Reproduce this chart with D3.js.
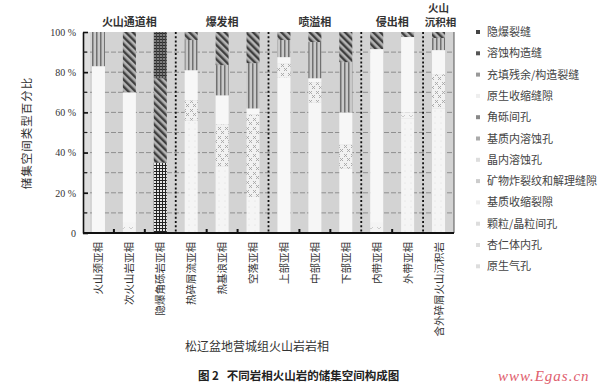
<!DOCTYPE html>
<html><head><meta charset="utf-8">
<script src="https://cdn.jsdelivr.net/npm/d3@7"></script>
<style>body{margin:0;background:#fff}svg{display:block}</style>
</head><body><svg id="c" width="616" height="385"></svg>
<script>
// ---------- data ----------
const categories = ["火山颈亚相","次火山岩亚相","隐爆角砾岩亚相","热碎屑流亚相","热基浪亚相","空落亚相","上部亚相","中部亚相","下部亚相","内带亚相","外带亚相","含外碎屑火山沉积岩"];
const groupNames = ["火山通道相","爆发相","喷溢相","侵出相","火山\n沉积相"];
const groupSizes = [3,3,3,2,1];
const seriesNames = ["隐爆裂缝","溶蚀构造缝","充填残余/构造裂缝","原生收缩缝隙","角砾间孔","基质内溶蚀孔","晶内溶蚀孔","矿物炸裂纹和解理缝隙","基质收缩裂隙","颗粒/晶粒间孔","杏仁体内孔","原生气孔"];
const yinBaoLieFeng      = [0,0,23,0,0,0,0,0,0,0,0,0];
const rongShiGouZaoFeng  = [0,30,42,4,16.5,15.5,4,5,15,8.5,2.5,3];
const chongTianCanYu     = [17,0,0,15,15,22.5,8.5,18,25,0,0,6];
const yuanShengShouSuo   = [83,65,0,15,14.5,3,3,2,16,86.5,37.5,12];
const liJianKong         = [0,0,35,0,0,0,0,0,0,0,0,0];
const jiZhiRongShiKong   = [0,0,0,10,21,41,7,10,12,0,0,17];
const jingNeiRongShiKong = [0,0,0,0,0,0,0,0,0,0,0,0];
const kuangWuZhaLieWen   = [0,5,0,0,0,0,0,0,0,5,3,0];
const jiZhiShouSuoLieXi  = [0,0,0,0,0,0,0,65,0,0,0,0];
const keLiJianKong       = [0,0,0,56,33,18,0,0,0,0,57,62];
const xingRenTiNeiKong   = [0,0,0,0,0,0,0,0,0,0,0,0];
const yuanShengQiKong    = [0,0,0,0,0,0,77.5,0,32,0,0,0];
const seriesValues = [yinBaoLieFeng,rongShiGouZaoFeng,chongTianCanYu,yuanShengShouSuo,liJianKong,jiZhiRongShiKong,jingNeiRongShiKong,kuangWuZhaLieWen,jiZhiShouSuoLieXi,keLiJianKong,xingRenTiNeiKong,yuanShengQiKong];
const yTicks = [0,20,40,60,80,100];
const yTickLabels = ["0","20 %","40 %","60 %","80 %","100 %"];

// ---------- setup ----------
const svg = d3.select("#c");
const L=83,R=454,T=32,B=233;
const x = d3.scaleBand().domain(categories).range([L,R]).padding(0);
const y = d3.scaleLinear().domain([0,100]).range([B,T]);
const barW = 13;
const CJK = "'Noto Sans CJK SC','Noto Sans',sans-serif";

const defs = svg.append("defs");
function pat(id,w,h,bg,rot){
  const p = defs.append("pattern").attr("id",id).attr("patternUnits","userSpaceOnUse").attr("width",w).attr("height",h);
  if(rot) p.attr("patternTransform",`rotate(${rot})`);
  p.append("rect").attr("width",w).attr("height",h).attr("fill",bg);
  return p;
}
// 隐爆裂缝: dark grid
let p = pat("p0",3,3,"#7d7d7d");
p.append("rect").attr("width",3).attr("height",1).attr("fill","#2a2a2a");
p.append("rect").attr("width",1).attr("height",3).attr("fill","#444");
// 溶蚀构造缝: diagonal hatch
p = pat("p1",5,5,"#b4b4b4",-45);
p.append("rect").attr("width",2.4).attr("height",5).attr("fill","#3f3f3f");
// 充填残余/构造裂缝: vertical stripes
p = pat("p2",4,4,"#c9c9c9");
p.append("rect").attr("width",1.5).attr("height",4).attr("fill","#707070");
// 原生收缩缝隙
pat("p3",4,4,"#f7f7f7");
// 角砾间孔: fine black grid
p = pat("p4",3,3,"#e6e6e6");
p.append("rect").attr("width",3).attr("height",1).attr("fill","#222");
p.append("rect").attr("width",1).attr("height",3).attr("fill","#222");
// 基质内溶蚀孔: speckles
p = pat("p5",7,9,"#f1f1f1");
p.append("path").attr("d","M1,1 L4,4 M4,1 L1,4 M4,5 L7,8 M7,5 L4,8").attr("stroke","#a5a5a5").attr("stroke-width",0.9);
// light ones
p = pat("p6",6,6,"#f5f5f5"); p.append("circle").attr("cx",2).attr("cy",2).attr("r",0.6).attr("fill","#ccc");
p = pat("p7",8,8,"#f4f4f4"); p.append("path").attr("d","M1,3 l2,2 l2,-2").attr("stroke","#bbb").attr("fill","none").attr("stroke-width",0.7);
pat("p8",4,4,"#f6f6f6");
p = pat("p9",6,6,"#f5f5f5"); p.append("circle").attr("cx",3).attr("cy",3).attr("r",0.5).attr("fill","#d5d5d5");
pat("p10",4,4,"#f6f6f6");
pat("p11",4,4,"#f8f8f8");

// plot background
svg.append("rect").attr("x",L).attr("y",T).attr("width",R-L).attr("height",B-T).attr("fill","#d3d3d3");
svg.append("rect").attr("x",L).attr("y",T).attr("width",7).attr("height",B-T).attr("fill","#dedede");

// gridlines every 10%
svg.append("g").selectAll("line").data(d3.range(10,100,10)).join("line")
  .attr("x1",L).attr("x2",R).attr("y1",d=>y(d)).attr("y2",d=>y(d))
  .attr("stroke","#8f8f8f").attr("stroke-width",1).attr("stroke-dasharray","5,2");

// stacked bars
const rows = categories.map((c,i)=>{const o={cat:c}; seriesNames.forEach((s,j)=>o[s]=seriesValues[j][i]); return o;});
const keys = seriesNames.slice().reverse(); // bottom first
const stacked = d3.stack().keys(keys)(rows);
svg.append("g").selectAll("g").data(stacked).join("g")
  .attr("fill",d=>`url(#p${seriesNames.indexOf(d.key)})`)
  .selectAll("rect").data(d=>d).join("rect")
  .attr("x",d=>x(d.data.cat)+x.bandwidth()/2-barW/2)
  .attr("width",barW)
  .attr("y",d=>y(d[1]))
  .attr("height",d=>y(d[0])-y(d[1]));

// group separators & boundaries
let cum=0; const sepIdx=[];
groupSizes.forEach((n,i)=>{cum+=n; if(i<groupSizes.length-1) sepIdx.push(cum);});
const boundary = k => k<categories.length ? x(categories[k]) : R;
svg.append("g").selectAll("line").data(sepIdx).join("line")
  .attr("x1",d=>boundary(d)).attr("x2",d=>boundary(d)).attr("y1",T).attr("y2",B)
  .attr("stroke","#111").attr("stroke-width",1.8).attr("stroke-dasharray","2,2.2");

// right border
svg.append("line").attr("x1",R).attr("x2",R).attr("y1",T).attr("y2",B).attr("stroke","#555").attr("stroke-width",1);

// y axis
const yAxis = d3.axisLeft(y).tickValues(yTicks).tickFormat((d,i)=>yTickLabels[i]).tickSizeInner(-5).tickSizeOuter(0).tickPadding(7);
const ga = svg.append("g").attr("transform",`translate(${L},0)`).call(yAxis);
ga.select(".domain").attr("stroke","#111").attr("stroke-width",1.6);
ga.selectAll(".tick line").attr("stroke","#111").attr("stroke-width",1.6);
ga.selectAll("text").attr("font-family","'Liberation Serif',serif").attr("font-size",10).attr("fill","#333");
svg.append("g").selectAll("line").data(d3.range(10,100,20)).join("line")
  .attr("x1",L).attr("x2",L+4).attr("y1",d=>y(d)).attr("y2",d=>y(d)).attr("stroke","#222").attr("stroke-width",1.2);

// bottom axis line & ticks
svg.append("line").attr("x1",L).attr("x2",R).attr("y1",B).attr("y2",B).attr("stroke","#111").attr("stroke-width",1.8);
svg.append("g").selectAll("line").data(d3.range(1,categories.length).filter(k=>!sepIdx.includes(k))).join("line")
  .attr("x1",d=>boundary(d)).attr("x2",d=>boundary(d)).attr("y1",B).attr("y2",B-4)
  .attr("stroke","#111").attr("stroke-width",2);

// category labels
svg.append("g").selectAll("text").data(categories).join("text")
  .attr("transform",d=>`translate(${x(d)+x.bandwidth()/2+4},242) rotate(-90)`)
  .attr("text-anchor","end").attr("font-family",CJK).attr("font-size",10.5).attr("fill","#333")
  .text(d=>d);

// group titles
cum=0;
groupNames.forEach((g,i)=>{
  const cx = (boundary(cum)+boundary(cum+groupSizes[i]))/2; cum+=groupSizes[i];
  const lines = g.split("\n");
  if(lines.length===1){
    svg.append("text").attr("x",cx).attr("y",26).attr("text-anchor","middle").attr("font-family",CJK).attr("font-size",11).attr("font-weight",700).attr("fill","#333").text(g);
  } else {
    svg.append("text").attr("x",cx).attr("y",12).attr("text-anchor","middle").attr("font-family",CJK).attr("font-size",10.5).attr("font-weight",700).attr("fill","#333").text(lines[0]);
    svg.append("text").attr("x",cx+2).attr("y",25.5).attr("text-anchor","middle").attr("font-family",CJK).attr("font-size",10.5).attr("font-weight",700).attr("fill","#333").text(lines[1]);
  }
});

// y title
svg.append("text").attr("transform","translate(31,133) rotate(-90)").attr("text-anchor","middle")
  .attr("font-family",CJK).attr("font-size",11.5).attr("fill","#333").attr("letter-spacing",1).text("储集空间类型百分比");
// x title
svg.append("text").attr("x",185).attr("y",351).attr("font-family",CJK).attr("font-size",12).attr("fill","#333").text("松辽盆地营城组火山岩岩相");

// legend
const legMark = ["#444","#555","#999","#eee","#888","#aaa","#ddd","#ccc","#eee","#ddd","#ddd","#ddd"];
const lg = svg.append("g");
seriesNames.forEach((s,i)=>{
  const yy = 32 + i*21.3;
  lg.append("rect").attr("x",476).attr("y",yy-2).attr("width",4).attr("height",4).attr("fill",legMark[i]);
  lg.append("text").attr("x",487).attr("y",yy+4).attr("font-family",CJK).attr("font-size",11).attr("fill","#444").text(s);
});

// caption
svg.append("text").attr("x",198).attr("y",380).attr("font-family",CJK).attr("font-size",11.5).attr("font-weight",700).attr("fill","#222").attr("xml:space","preserve").text("图 2   不同岩相火山岩的储集空间构成图");
// watermark
svg.append("text").attr("x",498).attr("y",381).attr("font-family","'Liberation Serif',serif").attr("font-style","italic").attr("font-size",15).attr("letter-spacing",1).attr("fill","#e0606e").text("www.Egas.cn");
</script></body></html>
